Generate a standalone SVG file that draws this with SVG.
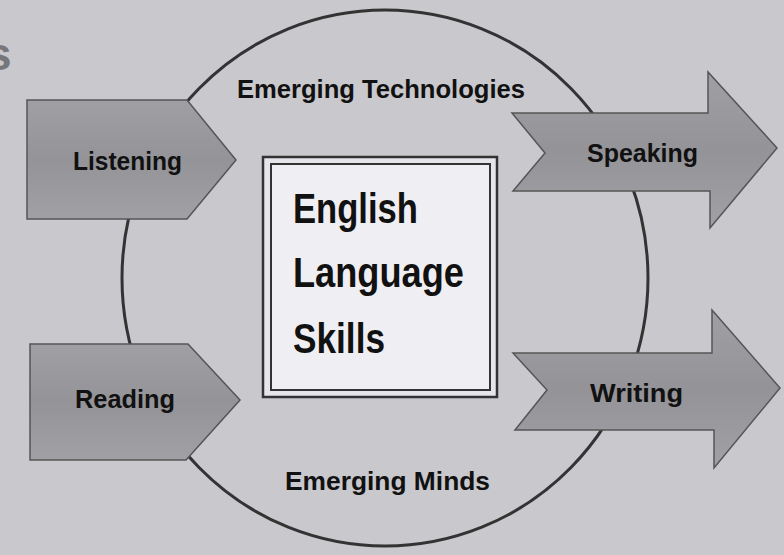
<svg xmlns="http://www.w3.org/2000/svg" width="784" height="555" viewBox="0 0 784 555">
<defs>
<linearGradient id="shade" x1="0" y1="0" x2="0" y2="1">
<stop offset="0" stop-color="#a09fa4"/>
<stop offset="0.5" stop-color="#949398"/>
<stop offset="1" stop-color="#a1a0a5"/>
</linearGradient>
</defs>
<style>
.bg{fill:#c9c8cd}
.ring{fill:none;stroke:#333;stroke-width:3}
.shape{fill:url(#shade);stroke:#555;stroke-width:1.5}
.lbl{font-family:"Liberation Sans",Arial,sans-serif;font-weight:bold;fill:#111;font-size:25px}
.ring-lbl{font-family:"Liberation Sans",Arial,sans-serif;font-weight:bold;fill:#111;font-size:25px}
.big{font-family:"Liberation Sans",Arial,sans-serif;font-weight:bold;fill:#111;font-size:43px}
</style>
<rect class="bg" x="0" y="0" width="784" height="555"/>
<text x="-14" y="70" font-family="Liberation Sans, Arial, sans-serif" font-size="46" font-weight="bold" fill="#77767b">s</text>
<g id="connectors">
<ellipse class="ring" cx="385" cy="278" rx="263" ry="268"/>
</g>
<g id="emerging-technologies"><text class="ring-lbl" x="237" y="98" textLength="288" lengthAdjust="spacingAndGlyphs">Emerging Technologies</text></g>
<g id="emerging-minds"><text class="ring-lbl" x="285" y="490" textLength="205" lengthAdjust="spacingAndGlyphs">Emerging Minds</text></g>
<g id="listening">
<polygon class="shape" points="27,100 187,100 236,160 187,219 27,219"/>
<text class="lbl" x="73" y="170" textLength="109" lengthAdjust="spacingAndGlyphs">Listening</text>
</g>
<g id="reading">
<polygon class="shape" points="30,344 188,344 240,400 186,460 30,460"/>
<text class="lbl" x="75" y="408" textLength="100" lengthAdjust="spacingAndGlyphs">Reading</text>
</g>
<g id="speaking">
<polygon class="shape" points="512,113 708,113 708,72 777,148 710,228 710,191 513,191 545,153"/>
<text class="lbl" x="587" y="162" textLength="111" lengthAdjust="spacingAndGlyphs">Speaking</text>
</g>
<g id="writing">
<polygon class="shape" points="513,353 712,353 712,310 780,388 714,468 714,430 515,430 547,390"/>
<text class="lbl" x="590" y="402" textLength="93" lengthAdjust="spacingAndGlyphs">Writing</text>
</g>
<g id="center">
<rect x="263" y="157" width="234" height="240" fill="#e6e5ea" stroke="#333" stroke-width="2.5"/>
<rect x="271" y="164" width="219" height="226" fill="#efeef2" stroke="#333" stroke-width="2"/>
<text class="big" x="293" y="223" textLength="125" lengthAdjust="spacingAndGlyphs">English</text>
<text class="big" x="293" y="287" textLength="171" lengthAdjust="spacingAndGlyphs">Language</text>
<text class="big" x="293" y="353" textLength="92" lengthAdjust="spacingAndGlyphs">Skills</text>
</g>
</svg>
